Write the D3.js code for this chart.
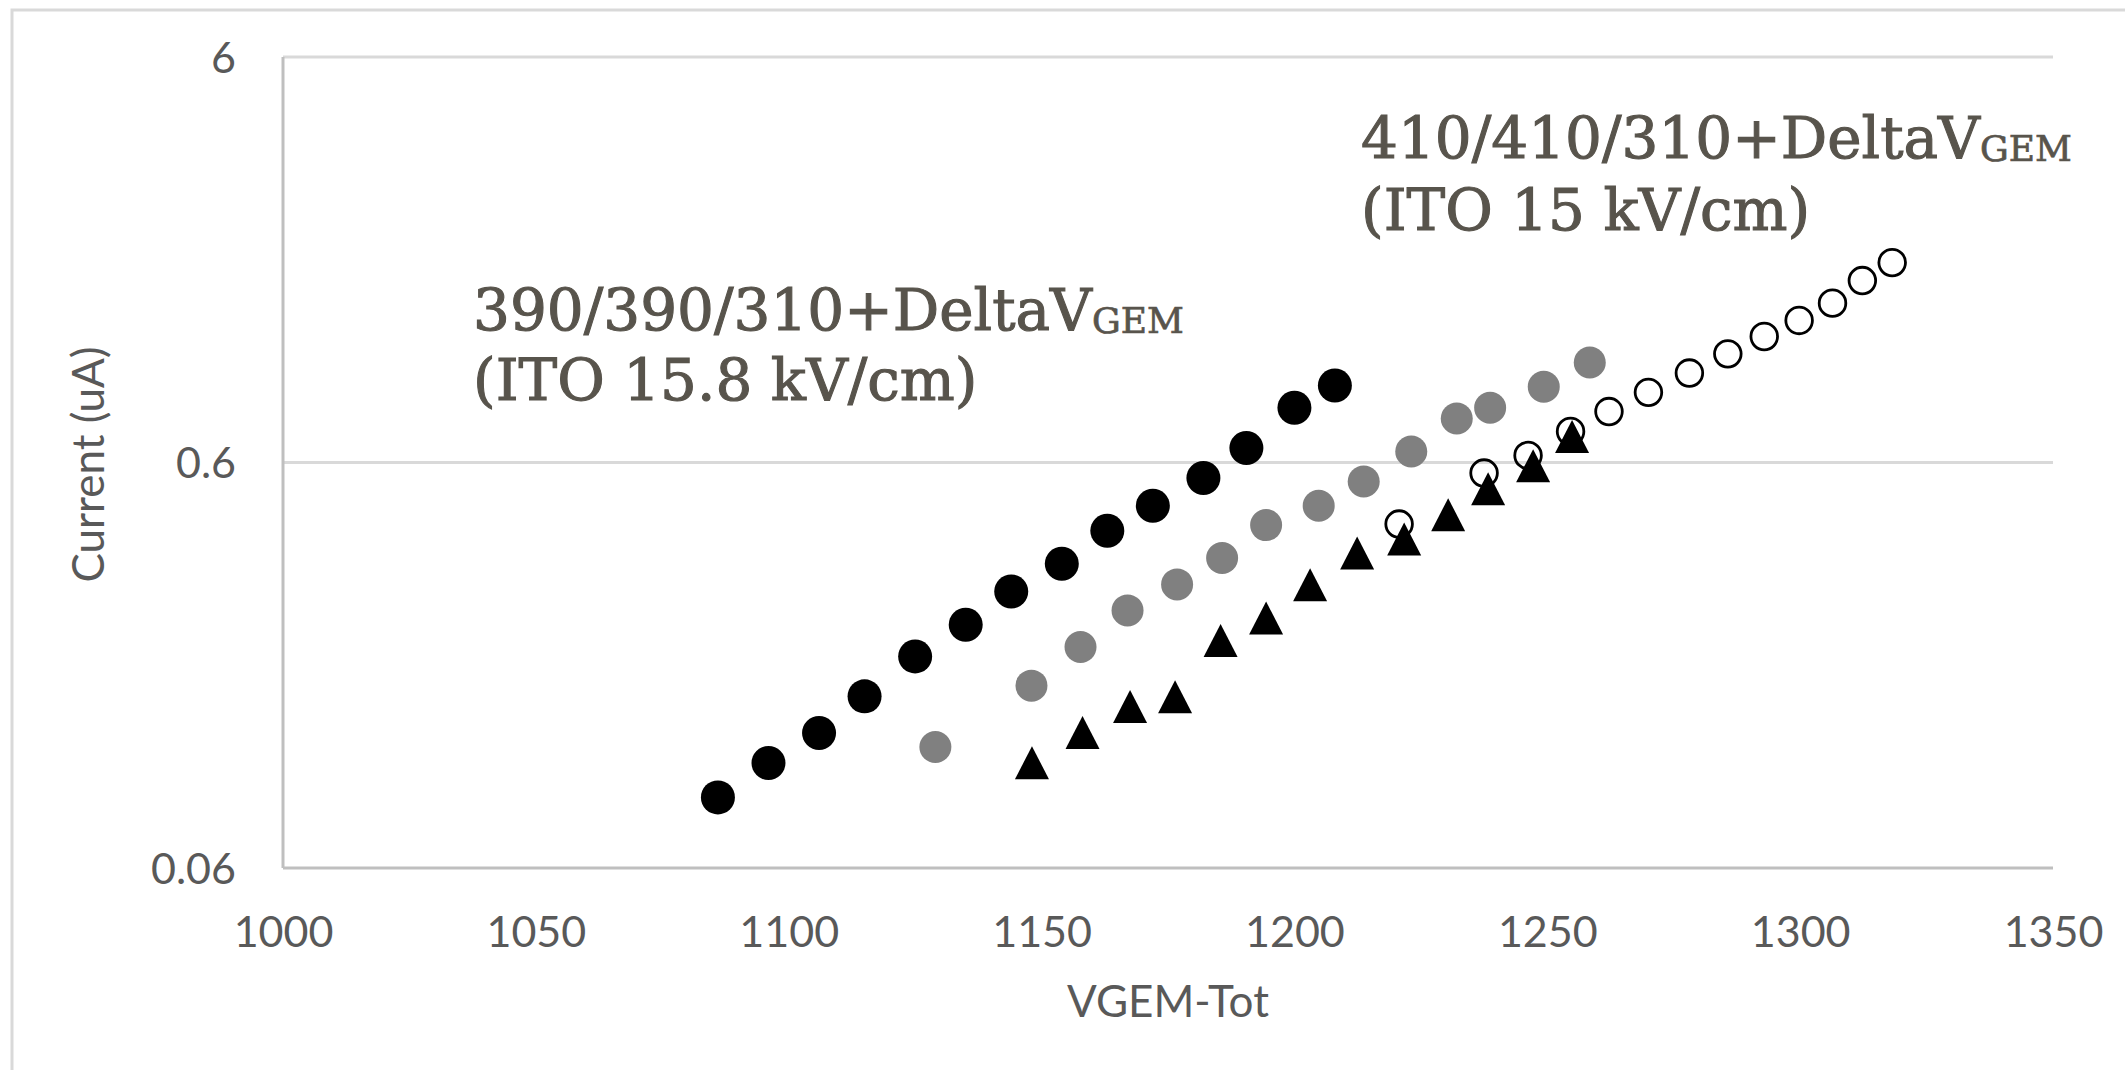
<!DOCTYPE html>
<html>
<head>
<meta charset="utf-8">
<script src="https://cdn.jsdelivr.net/npm/d3@7"></script>
<style>
  html, body { margin: 0; padding: 0; background: #ffffff; }
  svg { display: block; }
</style>
</head>
<body>
<svg id="chart" width="2125" height="1070"></svg>
<script>
// Total GEM voltage (V) and anode current (uA) for each configuration
const vgemStackA = [1086, 1096, 1106, 1115, 1125, 1135, 1144, 1154, 1163, 1172, 1182, 1190.5, 1200, 1208];
const currentStackA = [0.0896, 0.1089, 0.1292, 0.159, 0.1995, 0.2388, 0.2885, 0.3377, 0.4073, 0.4693, 0.5492, 0.6512, 0.8185, 0.929];

const vgemStackB = [1129, 1148, 1157.7, 1167, 1176.8, 1185.7, 1194.4, 1204.8, 1213.7, 1223.1, 1232.1, 1238.7, 1249.3, 1258.4];
const currentStackB = [0.1193, 0.169, 0.2104, 0.2591, 0.3003, 0.3488, 0.4206, 0.4693, 0.5387, 0.6387, 0.7704, 0.8185, 0.9222, 1.0585];

const vgemStackC = [1148.1, 1158.1, 1167.5, 1176.4, 1185.4, 1194.4, 1203.1, 1212.4, 1221.7, 1230.4, 1238.3, 1247.2, 1254.9];
const currentStackC = [0.1091, 0.1296, 0.1502, 0.1587, 0.2185, 0.2481, 0.2997, 0.3588, 0.3886, 0.4461, 0.5169, 0.589, 0.6955];

const vgemStackD = [1220.7, 1237.5, 1246.2, 1254.6, 1262.2, 1270.0, 1278.1, 1285.7, 1292.9, 1299.8, 1306.4, 1312.3, 1318.2];
const currentStackD = [0.423, 0.5651, 0.6245, 0.7155, 0.8014, 0.8937, 0.9972, 1.112, 1.227, 1.344, 1.483, 1.686, 1.867];

const xTicks = [1000, 1050, 1100, 1150, 1200, 1250, 1300, 1350];
const yTicks = [0.06, 0.6, 6];
const yTickLabels = ["0.06", "0.6", "6"];

const xTitle = "VGEM-Tot";
const yTitle = "Current (uA)";

const noteLow = { main: "390/390/310+DeltaV", sub: "GEM", line2: "(ITO 15.8 kV/cm)" };
const noteHigh = { main: "410/410/310+DeltaV", sub: "GEM", line2: "(ITO 15 kV/cm)" };

// ---- layout ----
const W = 2125, H = 1070;
const plot = { left: 283, right: 2053, top: 57, bottom: 868 };
const labelFont = "Lato, 'Open Sans', 'Noto Sans', sans-serif";
const noteFont = "'DejaVu Serif', 'Liberation Serif', serif";
const textGray = "#595959";
const noteColor = "#58544c";

const svg = d3.select("#chart");

// chart area frame (only its top and left edges fall inside the page)
svg.append("rect")
  .attr("x", 12).attr("y", 10)
  .attr("width", W + 20).attr("height", H + 20)
  .attr("fill", "#ffffff")
  .attr("stroke", "#d9d9d9").attr("stroke-width", 3);

const x = d3.scaleLinear().domain([1000, 1350]).range([plot.left, plot.right]);
const y = d3.scaleLog().domain([0.06, 6]).range([plot.bottom, plot.top]);

// horizontal gridlines
svg.append("g")
  .selectAll("line")
  .data(yTicks.slice(1))
  .join("line")
  .attr("x1", plot.left).attr("x2", plot.right)
  .attr("y1", d => y(d)).attr("y2", d => y(d))
  .attr("stroke", "#d9d9d9").attr("stroke-width", 3);

// axis lines
svg.append("line")
  .attr("x1", plot.left).attr("x2", plot.right)
  .attr("y1", plot.bottom).attr("y2", plot.bottom)
  .attr("stroke", "#bfbfbf").attr("stroke-width", 3);
svg.append("line")
  .attr("x1", plot.left).attr("x2", plot.left)
  .attr("y1", plot.top).attr("y2", plot.bottom)
  .attr("stroke", "#bfbfbf").attr("stroke-width", 3);

// x axis labels
const xAxis = svg.append("g")
  .attr("transform", `translate(0,${plot.bottom})`)
  .call(d3.axisBottom(x).tickValues(xTicks).tickSize(0).tickFormat(d3.format("d")));
xAxis.select(".domain").remove();
xAxis.selectAll("text")
  .attr("y", 79).attr("dy", 0)
  .attr("fill", textGray)
  .style("font-family", labelFont).style("font-size", "43px");

// y axis labels
const yAxis = svg.append("g")
  .attr("transform", `translate(${plot.left},0)`)
  .call(d3.axisLeft(y).tickValues(yTicks).tickSize(0).tickPadding(47)
    .tickFormat((d, i) => yTickLabels[i]));
yAxis.select(".domain").remove();
yAxis.selectAll("text")
  .attr("dy", "0.36em")
  .attr("fill", textGray)
  .style("font-family", labelFont).style("font-size", "43px");

// axis titles
svg.append("text")
  .attr("x", (plot.left + plot.right) / 2).attr("y", 1017)
  .attr("text-anchor", "middle")
  .attr("fill", textGray)
  .style("font-family", labelFont).style("font-size", "44px")
  .text(xTitle);

svg.append("text")
  .attr("transform", `translate(104,${(plot.top + plot.bottom) / 2 + 2}) rotate(-90)`)
  .attr("text-anchor", "middle")
  .attr("fill", textGray)
  .style("font-family", labelFont).style("font-size", "44px")
  .text(yTitle);

// ---- markers ----
const zip = (xs, ys) => xs.map((v, i) => ({ v, c: ys[i] }));

// open circles
svg.append("g")
  .selectAll("circle")
  .data(zip(vgemStackD, currentStackD))
  .join("circle")
  .attr("cx", d => x(d.v)).attr("cy", d => y(d.c))
  .attr("r", 13.3)
  .attr("fill", "none")
  .attr("stroke", "#000000").attr("stroke-width", 2.8);

// filled black circles
svg.append("g")
  .selectAll("circle")
  .data(zip(vgemStackA, currentStackA))
  .join("circle")
  .attr("cx", d => x(d.v)).attr("cy", d => y(d.c))
  .attr("r", 17)
  .attr("fill", "#000000");

// filled gray circles
svg.append("g")
  .selectAll("circle")
  .data(zip(vgemStackB, currentStackB))
  .join("circle")
  .attr("cx", d => x(d.v)).attr("cy", d => y(d.c))
  .attr("r", 16)
  .attr("fill", "#808080");

// filled triangles
const tri = "M0,-16.5L17,16.5L-17,16.5Z";
svg.append("g")
  .selectAll("path")
  .data(zip(vgemStackC, currentStackC))
  .join("path")
  .attr("transform", d => `translate(${x(d.v)},${y(d.c)})`)
  .attr("d", tri)
  .attr("fill", "#000000");

// ---- annotations ----
function note(left, base1, base2, n) {
  const t = svg.append("text")
    .attr("x", left).attr("y", base1)
    .attr("fill", noteColor)
    .attr("stroke", noteColor).attr("stroke-width", 1.1)
    .style("font-family", noteFont).style("font-size", "58px");
  t.append("tspan").text(n.main);
  t.append("tspan").attr("dy", 3).style("font-size", "36px").attr("stroke-width", 0.7).text(n.sub);
  svg.append("text")
    .attr("x", left).attr("y", base2)
    .attr("fill", noteColor)
    .attr("stroke", noteColor).attr("stroke-width", 1.1)
    .style("font-family", noteFont).style("font-size", "58px")
    .text(n.line2);
}
note(473, 330, 400, noteLow);
note(1361, 158, 230, noteHigh);
</script>
</body>
</html>
